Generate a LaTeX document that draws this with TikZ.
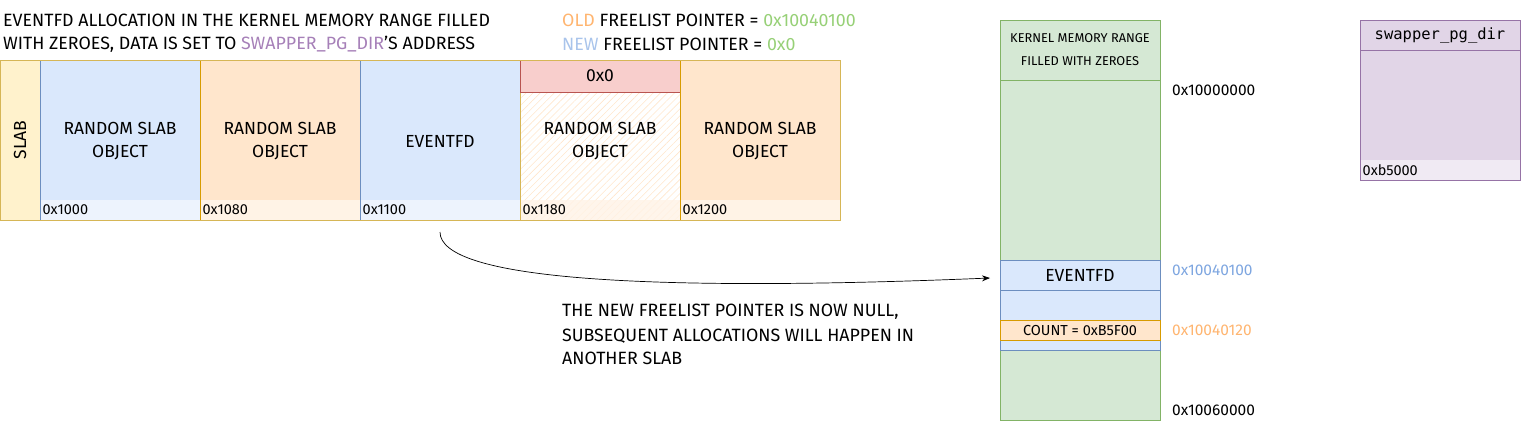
\documentclass[tikz,border=0pt]{standalone}
\usepackage{fontspec}
\setmainfont{Fira Sans}
\newfontfamily\monof{DejaVu Sans Mono}
\usetikzlibrary{patterns.meta,arrows.meta}
\definecolor{blueF}{HTML}{DAE8FC}
\definecolor{blueD}{HTML}{6C8EBF}
\definecolor{blueS}{HTML}{EDF3FD}
\definecolor{orF}{HTML}{FFE6CC}
\definecolor{orD}{HTML}{D79B00}
\definecolor{orS}{HTML}{FFF3E6}
\definecolor{yeF}{HTML}{FFF2CC}
\definecolor{yeD}{HTML}{D6B656}
\definecolor{redF}{HTML}{F8CECC}
\definecolor{redD}{HTML}{B85450}
\definecolor{grF}{HTML}{D5E8D4}
\definecolor{grD}{HTML}{82B366}
\definecolor{puF}{HTML}{E1D5E7}
\definecolor{puD}{HTML}{9673A6}
\definecolor{puS}{HTML}{F0EAF3}
\definecolor{puT}{HTML}{A680B8}
\definecolor{orT}{HTML}{FFB570}
\definecolor{blT}{HTML}{7EA6E0}
\definecolor{newT}{HTML}{A9C4EB}
\definecolor{grT}{HTML}{97D077}
\begin{document}
\begin{tikzpicture}[x=1pt,y=-1pt,
  box/.style={rectangle,inner sep=0pt,outer sep=0pt,line width=0.8pt},
  strip/.style={rectangle,inner sep=0pt,outer sep=0pt,draw=none,minimum width=159,minimum height=19.5,anchor=south},
  lbl/.style={inner sep=0pt,anchor=west,font=\fontsize{14.5}{16}\selectfont},
  addr/.style={inner sep=0pt,anchor=west,font=\fontsize{15.5}{17}\selectfont},
  txt/.style={inner sep=0pt,align=center,font=\fontsize{17.5}{23}\selectfont},
  note/.style={inner sep=0pt,anchor=west,align=left,font=\fontsize{17.8}{23}\selectfont}]
\useasboundingbox (0,0) rectangle (1521,421);

% titles
\node[note] (t1) at (3,20) {EVENTFD ALLOCATION IN THE KERNEL MEMORY RANGE FILLED};
\node[note] (t2) at (3,44) {WITH ZEROES, DATA IS SET TO \textcolor{puT}{SWAPPER\_PG\_DIR}'S ADDRESS};
\node[note] (t3) at (562,20) {\textcolor{orT}{OLD} FREELIST POINTER = \textcolor{grT}{0x10040100}};
\node[note] (t4) at (562,44) {\textcolor{newT}{NEW} FREELIST POINTER = \textcolor{grT}{0x0}};

% slab column
\node[box,fill=yeF,draw=yeD,minimum width=40,minimum height=160] (slab) at (20,140) {};
\node[txt,rotate=90] (slabt) at (slab.center) {SLAB};

% object 1
\node[box,fill=blueF,draw=blueD,minimum width=160,minimum height=160] (o1) at (120,140) {};
\node[strip,fill=blueS] (s1) at ([yshift=0.5pt]o1.south) {};
\node[box,draw=blueD,minimum width=160,minimum height=160] at (o1.center) {};
\node[txt] (o1t) at (120,141) {RANDOM SLAB\\OBJECT};
\node[lbl] (o1a) at ([xshift=2pt]s1.west) {0x1000};

% object 2
\node[box,fill=orF,draw=orD,minimum width=160,minimum height=160] (o2) at (280,140) {};
\node[strip,fill=orS] (s2) at ([yshift=0.5pt]o2.south) {};
\node[box,draw=orD,minimum width=160,minimum height=160] at (o2.center) {};
\node[txt] (o2t) at (280,141) {RANDOM SLAB\\OBJECT};
\node[lbl] (o2a) at ([xshift=2pt]s2.west) {0x1080};

% object 3 eventfd
\node[box,fill=blueF,draw=blueD,minimum width=160,minimum height=160] (o3) at (440,140) {};
\node[strip,fill=blueS] (s3) at ([yshift=0.5pt]o3.south) {};
\node[box,draw=blueD,minimum width=160,minimum height=160] at (o3.center) {};
\node[txt] (o3t) at (440,141) {EVENTFD};
\node[lbl] (o3a) at ([xshift=2pt]s3.west) {0x1100};

% object 4 hatched
\node[box,pattern={Lines[angle=45,distance=5pt,line width=0.6pt]},pattern color=orF,minimum width=160,minimum height=160] (o4) at (600,140) {};
\node[strip,fill=orS,opacity=0.8] (s4) at ([yshift=0.5pt]o4.south) {};
\node[box,draw=yeD,minimum width=160,minimum height=160,line width=1pt] at (o4.center) {};
\node[box,fill=redF,draw=redD,minimum width=160,minimum height=32] (o4h) at (600,76) {};
\node[txt] (o4ht) at (o4h.center) {0x0};
\node[txt] (o4t) at (600,141) {RANDOM SLAB\\OBJECT};
\node[lbl] (o4a) at ([xshift=2pt]s4.west) {0x1180};

% object 5
\node[box,fill=orF,draw=orD,minimum width=160,minimum height=160] (o5) at (760,140) {};
\node[strip,fill=orS] (s5) at ([yshift=0.5pt]o5.south) {};
\node[box,draw=orD,minimum width=160,minimum height=160] at (o5.center) {};
\node[txt] (o5t) at (760,141) {RANDOM SLAB\\OBJECT};
\node[lbl] (o5a) at ([xshift=2pt]s5.west) {0x1200};

% slab outline
\node[box,draw=yeD,minimum width=840,minimum height=160] (slabrow) at (420,140) {};

% kernel memory column
\node[box,fill=grF,draw=grD,minimum width=160,minimum height=400] (km) at (1080,220) {};
\node[box,draw=grD,minimum width=160,minimum height=60] (kmh) at (1080,50) {};
\node[txt,font=\fontsize{12.8}{23}\selectfont] (kmht) at (kmh.center) {KERNEL MEMORY RANGE\\FILLED WITH ZEROES};
\node[box,fill=blueF,draw=blueD,minimum width=160,minimum height=90] (ev) at (1080,305) {};
\node[box,draw=blueD,minimum width=160,minimum height=30] (evh) at (1080,275) {};
\node[txt] (evht) at (evh.center) {EVENTFD};
\node[box,fill=orF,draw=orD,minimum width=160,minimum height=20] (cnt) at (1080,330) {};
\node[txt,font=\fontsize{14.5}{16}\selectfont] (cntt) at (cnt.center) {COUNT = 0xB5F00};
\node[addr] (a1) at (1172,90) {0x10000000};
\node[addr,text=blT] (a2) at (1172,270) {0x10040100};
\node[addr,text=orT] (a3) at (1172,330) {0x10040120};
\node[addr] (a4) at (1172,410) {0x10060000};

% swapper_pg_dir
\node[box,fill=puF,draw=puD,minimum width=160,minimum height=160] (sw) at (1440,100) {};
\node[strip,fill=puS] (sws) at ([yshift=0.5pt]sw.south) {};
\node[box,draw=puD,minimum width=160,minimum height=160] at (sw.center) {};
\node[box,draw=puD,minimum width=160,minimum height=30] (swh) at (1440,35) {};
\node[inner sep=0pt,font=\monof\fontsize{15.5}{17}\selectfont] (swht) at (swh.center) {swapper\_pg\_dir};
\node[lbl] (swa) at ([xshift=2pt]sws.west) {0xb5000};

% arrow
\coordinate (astart) at (440,232);
\draw[-{Stealth[length=8pt,width=6pt]},line width=0.7pt] (astart) .. controls (440,280) and (650,292) .. ([xshift=-10pt,yshift=-3pt]evh.west);

\node[note] (n1) at (562,312) {THE NEW FREELIST POINTER IS NOW NULL,};
\node[note] (n2) at (562,336) {SUBSEQUENT ALLOCATIONS WILL HAPPEN IN};
\node[note] (n3) at (562,358) {ANOTHER SLAB};
\end{tikzpicture}
\end{document}
